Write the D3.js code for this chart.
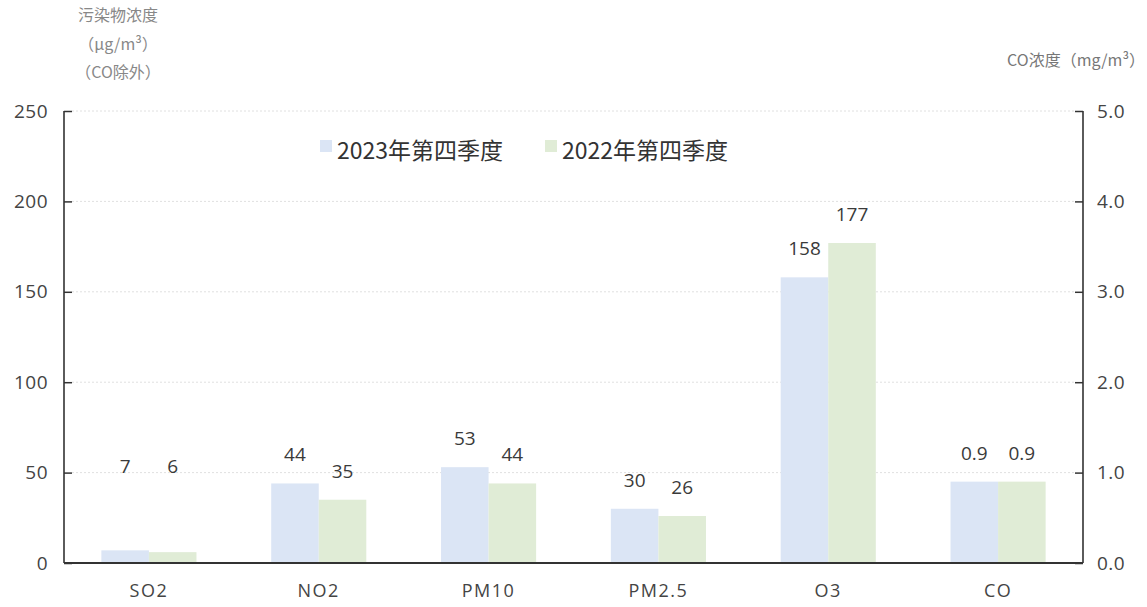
<!DOCTYPE html>
<html><head><meta charset="utf-8">
<script src="https://cdn.jsdelivr.net/npm/d3@7"></script>
<style>
body{margin:0;background:#fff;}
svg{display:block;font-family:"Open Sans","Noto Sans CJK SC",sans-serif;}
</style></head>
<body>
<svg id="c" width="1147" height="607"></svg>
<script>
const categories = ["SO2","NO2","PM10","PM2.5","O3","CO"];
const seriesNames = ["2023年第四季度","2022年第四季度"];
const values2023 = [7,44,53,30,158,0.9];
const values2022 = [6,35,44,26,177,0.9];
const leftTicks = [0,50,100,150,200,250];
const rightTicks = [0,1,2,3,4,5];
const rightAxisCategory = "CO";
const colors = ["#dbe5f5","#e0ecd6"];

const svg = d3.select("#c");
const L = 64, R = 1083, T = 111, B = 563;

const x0 = d3.scaleBand().domain(categories).range([L,R]).paddingInner(0.44).paddingOuter(0.22);
const x1 = d3.scaleBand().domain([0,1]).range([0,x0.bandwidth()]);
const yL = d3.scaleLinear().domain([0,250]).range([B,T]);
const yR = d3.scaleLinear().domain([0,5]).range([B,T]);

// gridlines
svg.append("g").selectAll("line").data(leftTicks.slice(1)).join("line")
  .attr("x1",L+8).attr("x2",R-8).attr("y1",d=>yL(d)).attr("y2",d=>yL(d))
  .attr("stroke","#e0e0e0").attr("stroke-width",1).attr("stroke-dasharray","2,2");

// bars
const rows = categories.map((c,i)=>({c, vals:[values2023[i],values2022[i]]}));
const g = svg.append("g");
rows.forEach(r=>{
  const ys = r.c===rightAxisCategory ? yR : yL;
  r.vals.forEach((v,j)=>{
    const bx = x0(r.c)+x1(j);
    g.append("rect").attr("x",bx).attr("width",x1.bandwidth())
      .attr("y",ys(v)).attr("height",B-ys(v)).attr("fill",colors[j]);
    let ly = ys(v)-22;
    if (B-ys(v) < 20) ly = B - 90;
    g.append("text").attr("x",bx+x1.bandwidth()/2).attr("y",ly)
      .attr("text-anchor","middle").attr("font-size",19).attr("fill","#3a3a3a")
      .text(r.c===rightAxisCategory ? d3.format(".1f")(v) : v);
  });
});

// axes
const axL = d3.axisLeft(yL).tickValues(leftTicks).tickSize(-8).tickPadding(16).tickFormat(d3.format("d"));
const axR = d3.axisRight(yR).tickValues(rightTicks).tickSize(-8).tickPadding(14).tickFormat(d3.format(".1f"));
const gl = svg.append("g").attr("transform",`translate(${L},0)`).call(axL);
const gr = svg.append("g").attr("transform",`translate(${R},0)`).call(axR);
[gl,gr].forEach(a=>{
  a.select(".domain").remove();
  a.selectAll(".tick line").attr("stroke","#333").attr("stroke-width",1.5);
  a.selectAll(".tick text").attr("font-size",19).attr("letter-spacing",0.5).attr("fill","#444").attr("font-family","'Open Sans',sans-serif");
});
svg.append("line").attr("x1",L).attr("x2",L).attr("y1",T).attr("y2",B).attr("stroke","#333").attr("stroke-width",1.6);
svg.append("line").attr("x1",R).attr("x2",R).attr("y1",T).attr("y2",B).attr("stroke","#333").attr("stroke-width",1.6);
svg.append("line").attr("x1",L).attr("x2",R).attr("y1",B).attr("y2",B).attr("stroke","#333").attr("stroke-width",1.8);

// category labels
svg.append("g").selectAll("text").data(categories).join("text")
  .attr("x",d=>x0(d)+x0.bandwidth()/2).attr("y",597)
  .attr("text-anchor","middle").attr("font-size",18).attr("letter-spacing",1.5)
  .attr("fill","#444").text(d=>d);

// legend
const lg = svg.append("g");
const legX = [320,545];
seriesNames.forEach((n,i)=>{
  lg.append("rect").attr("x",legX[i]).attr("y",140).attr("width",12).attr("height",12).attr("fill",colors[i]);
  lg.append("text").attr("x",legX[i]+17).attr("y",159).attr("font-size",23).attr("fill","#333")
    .attr("font-family","'Noto Sans CJK SC',sans-serif").text(n);
});

// axis titles
const tl = svg.append("g").attr("font-size",16).attr("fill","#888").attr("text-anchor","middle")
  .attr("font-family","'Noto Sans CJK SC',sans-serif");
tl.append("text").attr("x",118).attr("y",21).text("污染物浓度");
tl.append("text").attr("x",118).attr("y",50).text("（μg/m³）");
tl.append("text").attr("x",118).attr("y",78).text("（CO除外）");
svg.append("text").attr("x",1145).attr("y",66).attr("text-anchor","end").attr("font-size",16)
  .attr("fill","#777").attr("font-family","'Noto Sans CJK SC',sans-serif").text("CO浓度（mg/m³）");
</script>
</body></html>
